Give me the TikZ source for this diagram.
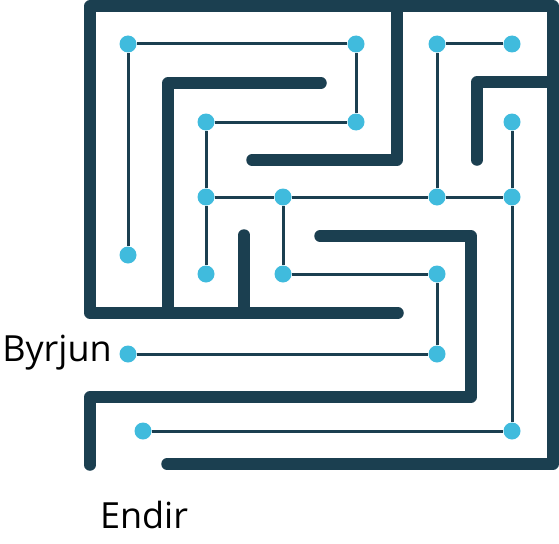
\documentclass[tikz,border=0pt]{standalone}
\usepackage{fontspec}
\setmainfont{Open Sans}
\definecolor{wallc}{HTML}{1B3F50}
\definecolor{dotc}{HTML}{40BBDD}
\begin{document}
\begin{tikzpicture}[x=1pt,y=-1pt,
  wall/.style={draw=wallc,line width=11.5pt,line cap=round,line join=round},
  link/.style={draw=wallc,line width=3pt},
  dot/.style={circle,fill=dotc,minimum size=17pt,inner sep=0pt},
  lbl/.style={font=\fontsize{36}{40}\selectfont,text=black,inner sep=0pt}]
\useasboundingbox (0,0) rectangle (559,543);
% walls
\draw[wall] (398,313) -- (90,313) -- (90,6) -- (553,6) -- (553,464) -- (167,464);
\draw[wall] (397,6) -- (397,160) -- (252,160);
\draw[wall] (321,83) -- (168,83) -- (168,313);
\draw[wall] (244,235) -- (244,313);
\draw[wall] (553,82) -- (477,82) -- (477,160);
\draw[wall] (320,236) -- (471,236) -- (471,397) -- (90,397) -- (90,465);
% dots
\node[dot] (a1) at (128,44) {};
\node[dot] (a2) at (356,44) {};
\node[dot] (a3) at (437,44) {};
\node[dot] (a4) at (512,44) {};
\node[dot] (b1) at (206,122) {};
\node[dot] (b2) at (356,122) {};
\node[dot] (b3) at (512,122) {};
\node[dot] (c1) at (206,197) {};
\node[dot] (c2) at (283,197) {};
\node[dot] (c3) at (437,197) {};
\node[dot] (c4) at (512,197) {};
\node[dot] (d1) at (128,255) {};
\node[dot] (d2) at (206,274) {};
\node[dot] (d3) at (283,274) {};
\node[dot] (d4) at (437,274) {};
\node[dot] (e1) at (128,354) {};
\node[dot] (e2) at (437,354) {};
\node[dot] (f1) at (143,431) {};
\node[dot] (f2) at (512,431) {};
% links
\path[link] (a1) -- (a2) (a1) -- (d1) (a2) -- (b2) (b1) -- (b2)
  (a3) -- (a4) (a3) -- (c3) (b3) -- (c4) (c4) -- (f2)
  (b1) -- (c1) (c1) -- (d2) (c1) -- (c2) (c2) -- (c3) (c3) -- (c4)
  (c2) -- (d3) (d3) -- (d4) (d4) -- (e2) (e1) -- (e2) (f1) -- (f2);
% labels
\node[lbl] (start) at (57,353) {Byrjun};
\node[lbl] (end) at (144,515) {Endir};
\end{tikzpicture}
\end{document}
